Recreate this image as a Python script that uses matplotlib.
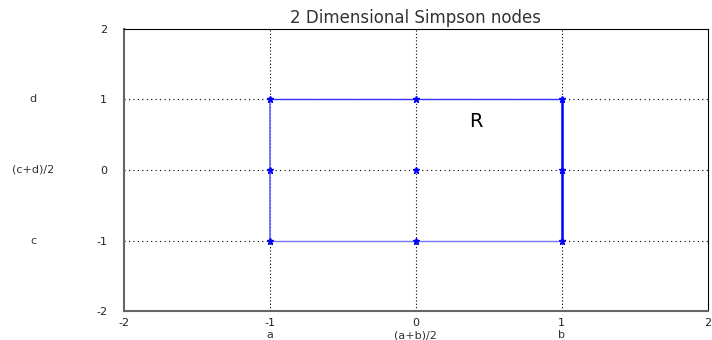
import matplotlib
matplotlib.use("Agg")
import matplotlib.pyplot as plt

plt.rcParams["axes.unicode_minus"] = False

# Simpson nodes on [a,b] x [c,d] = [-1,1] x [-1,1]
node_x = [-1, 0, 1]
node_y = [-1, 0, 1]
ticks = [-2, -1, 0, 1, 2]
x_names = ["a", "(a+b)/2", "b"]
y_names = ["c", "(c+d)/2", "d"]

fig = plt.figure(figsize=(7.12, 3.4), dpi=100)
ax = fig.add_axes([0.174, 0.085, 0.82, 0.83])

# grid lines through the nodes
for v in node_x:
    ax.axvline(v, color="black", ls=(0, (1, 2)), lw=0.8, zorder=1)
for v in node_y:
    ax.axhline(v, color="black", ls=(0, (1, 3)), lw=0.8, zorder=1)

# rectangle edges
blue = "#3333ff"
ax.plot([node_x[0], node_x[-1]], [node_y[-1], node_y[-1]], color=blue, lw=1.0, zorder=2)
ax.plot([node_x[0], node_x[-1]], [node_y[0], node_y[0]], color="#7777ff", lw=1.0, zorder=2)
ax.plot([node_x[0], node_x[0]], [node_y[0], node_y[-1]], color="#6666ff", lw=1.2, zorder=2)
ax.plot([node_x[-1], node_x[-1]], [node_y[0], node_y[-1]], color="#0000ff", lw=1.8, zorder=2)

# nodes
for xv in node_x:
    for yv in node_y:
        ax.plot(xv, yv, marker="*", color="#0000ff", ms=5, zorder=3)

ax.text(0.41, 0.69, "R", fontsize=14, ha="center", va="center")

ax.set_xlim(-2, 2)
ax.set_ylim(-2, 2)
ax.set_xticks(ticks)
ax.set_yticks(ticks)
ax.tick_params(axis="x", labelsize=8, length=0, pad=5, labelcolor="#222222")
ax.tick_params(axis="y", labelsize=8, length=0, pad=12, labelcolor="#222222")
ax.set_title("2 Dimensional Simpson nodes", fontsize=12, pad=4, color="#333333")
for s in ["left", "bottom"]:
    ax.spines[s].set_color("#666666")
    ax.spines[s].set_linewidth(1.5)

for xv, name in zip(node_x, x_names):
    ax.text(xv, -2.34, name, fontsize=8, ha="center", va="center",
            clip_on=False, color="#333333")
for yv, name in zip(node_y, y_names):
    ax.text(-2.62, yv, name, fontsize=8, ha="center", va="center",
            clip_on=False, color="#333333")

fig.savefig("out.png", dpi=100)
